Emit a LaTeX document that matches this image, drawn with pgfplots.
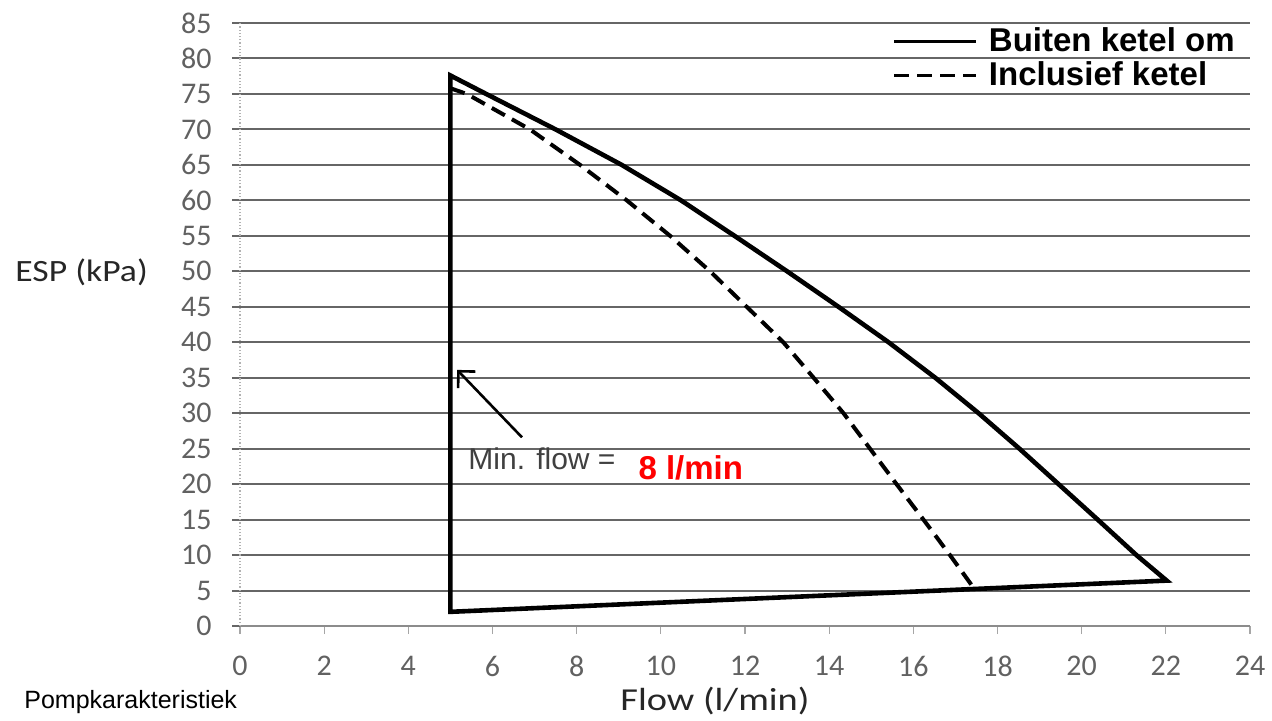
\documentclass[border=0pt]{standalone}
\usepackage{fontspec}
\setmainfont{Carlito}
\newfontfamily\arial{Liberation Sans}
\usepackage{pgfplots}
\pgfplotsset{compat=1.18}
\usetikzlibrary{arrows.meta}
\definecolor{gridc}{rgb}{0.40,0.40,0.40}
\begin{document}
\begin{tikzpicture}
\useasboundingbox (0,0) rectangle (636pt,360pt);
\begin{axis}[
  at={(120pt,47pt)}, anchor=south west,
  scale only axis, width=505pt, height=301.5pt,
  xmin=0, xmax=24, ymin=0, ymax=85,
  xtick={0,2,...,24}, ytick={0,5,...,85},
  axis x line*=bottom, axis y line*=left,
  ymajorgrids,
  major grid style={draw=gridc, line width=1pt},
  x axis line style={draw=black!45, line width=1pt},
  y axis line style={draw=black!30, line width=0.6pt, densely dotted},
  tick align=outside, major tick length=4pt,
  xtick style={draw=black!35, line width=0.6pt},
  ytick style={draw=gridc, line width=1pt},
  /pgf/number format/assume math mode=true,
  ticklabel style={font=\fontsize{15}{18}\selectfont, text=black!62},
  yticklabel style={anchor=east, inner sep=0pt, xshift=-10pt},
  xticklabel style={anchor=north, inner sep=0pt, yshift=-11pt},
  xlabel={\scalebox{1.2}[1]{Flow (l/min)}},
  xlabel style={at={(axis description cs:0.4703,-0.1236)}, anchor=center, inner sep=0pt,
    font=\fontsize{16}{19}\selectfont, text=black!85},
  ylabel={\scalebox{1.15}[1]{ESP (kPa)}},
  ylabel style={rotate=-90, at={(axis description cs:-0.2228,0.587)}, anchor=west, inner sep=0pt,
    font=\fontsize{15.5}{19}\selectfont, text=black!85},
  legend style={draw=none, fill=none, at={(axis description cs:0.6465,0.9917)}, anchor=north west,
    inner sep=0pt, outer sep=0pt, row sep=3.5pt, column sep=5.5pt,
    font=\arial\bfseries\fontsize{16.5}{19}\selectfont, nodes={inner sep=0pt}},
  legend cell align=left,
  legend image code/.code={\draw[#1, line width=1.5pt] (0pt,0pt) -- (41pt,0pt);},
  clip=false,
]
\addplot[black, line width=2.3pt, line join=miter] coordinates {
  (5,2.0) (5,77.6) (5.85,75) (7.5,70) (9.07,65) (10.48,60) (11.75,55)
  (13.0,50) (14.22,45) (15.41,40) (16.52,35) (17.55,30) (18.52,25)
  (19.45,20) (20.38,15) (21.3,10) (22.02,6.4) (5,2.0)
} -- cycle;
\addlegendentry{Buiten ketel om}
\addplot[black, line width=2pt, dash pattern=on 7.5pt off 4pt] coordinates {
  (5,75.8) (5.39,75) (6.89,70) (8.08,65) (9.19,60) (10.22,55) (11.17,50)
  (12.04,45) (12.91,40) (13.63,35) (14.34,30) (14.97,25) (15.6,20)
  (16.24,15) (16.87,10) (17.43,5.4)
};
\addlegendentry{Inclusief ketel}
\draw[black, line width=1.3pt, -{Straight Barb[length=6pt,width=12pt,line width=1.3pt]}]
  (axis cs:6.70,26.6) -- (axis cs:5.16,36.1);
\node[anchor=base west, inner sep=0pt, text=black!75,
  font=\arial\fontsize{15}{18}\selectfont] at (axis cs:5.42,22.0) {Min. flow =};
\node[anchor=base west, inner sep=0pt, text=red,
  font=\arial\bfseries\fontsize{16.5}{19}\selectfont] at (axis cs:9.46,20.7) {8 l/min};
\end{axis}
\node[anchor=west, inner sep=0pt, font=\arial\fontsize{12.5}{15}\selectfont] at (12pt,9pt) {Pompkarakteristiek};
\end{tikzpicture}
\end{document}
